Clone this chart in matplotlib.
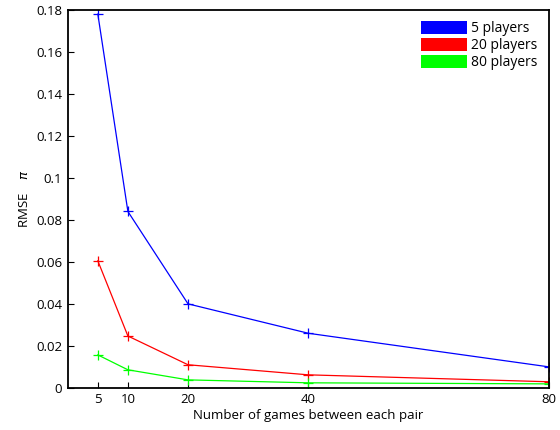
import numpy as np
import matplotlib
matplotlib.use('Agg')
import matplotlib.pyplot as plt
from matplotlib.patches import Patch

# Games between each pair
games = [5, 10, 20, 40, 80]

# RMSE values per number of players
rmse_5 = [0.178, 0.084, 0.040, 0.026, 0.010]
rmse_20 = [0.0605, 0.0247, 0.011, 0.0062, 0.0029]
rmse_80 = [0.0157, 0.0086, 0.0038, 0.0024, 0.0019]

labels = ['5 players', '20 players', '80 players']
colors = ['#0000ff', '#ff0000', '#00ff00']

yticks = [0, 0.02, 0.04, 0.06, 0.08, 0.1, 0.12, 0.14, 0.16, 0.18]
ytick_labels = ['0', '0.02', '0.04', '0.06', '0.08', '0.1', '0.12', '0.14', '0.16', '0.18']


def main():

    plt.rcParams['font.family'] = ['Open Sans', 'DejaVu Sans']
    plt.rcParams['font.size'] = 9.5

    fig = plt.figure(figsize=(5.6, 4.3), dpi=100)
    ax = fig.add_axes([0.121, 0.098, 0.859, 0.879])

    for vals, c in zip([rmse_5, rmse_20, rmse_80], colors):
        ax.plot(games, vals, color=c, lw=0.9, marker='+', ms=7.5, mew=0.9)

    ax.set_xlim(0, 80)
    ax.set_ylim(0, 0.18)
    ax.set_xticks(games)
    ax.set_yticks(yticks)
    ax.set_yticklabels(ytick_labels)
    ax.tick_params(direction='in', length=4, width=0.8, top=False, right=False, pad=4)
    for s in ax.spines.values():
        s.set_linewidth(1.3)

    ax.set_xlabel('Number of games between each pair', labelpad=2)
    ax.set_ylabel('RMSE    $\\pi$', labelpad=4)

    handles = [Patch(facecolor=c, edgecolor='none') for c in colors]
    ax.legend(handles, labels, loc='upper right', frameon=False,
              handlelength=3.3, handleheight=1.1, handletextpad=0.3,
              labelspacing=0.1, borderaxespad=0.4, fontsize=10)

    fig.savefig('out.png', dpi=100)


if __name__ == '__main__':
    main()
